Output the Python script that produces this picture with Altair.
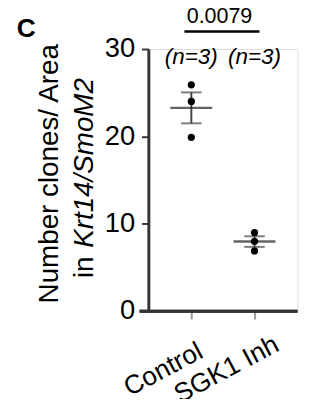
import altair as alt
import pandas as pd
import numpy as np

# ---- data ----
groups = ["Control", "SGK1 Inh"]
control_vals = [25.9, 24.0, 19.9]
sgk1_vals = [9.0, 8.0, 6.9]
n_labels = ["(n=3)", "(n=3)"]
p_value = "0.0079"
y_ticks = [0, 10, 20, 30]

pts = pd.DataFrame({
    "group": [groups[0]] * len(control_vals) + [groups[1]] * len(sgk1_vals),
    "value": control_vals + sgk1_vals,
})

stats_rows = []
for g, vals in zip(groups, [control_vals, sgk1_vals]):
    a = np.array(vals)
    m = a.mean()
    sem = a.std(ddof=1) / np.sqrt(len(a))
    stats_rows.append({"group": g, "mean": m, "lo": m - sem, "hi": m + sem})
stats = pd.DataFrame(stats_rows)
labels_df = pd.DataFrame({"group": groups, "n": n_labels})

FONT = "Liberation Sans"
W, H = 153, 269

xscale = alt.Scale(domain=groups, type="point", padding=0.68)
yscale = alt.Scale(domain=[0, 30], nice=False, zero=True)

x_enc = alt.X("group:N", scale=xscale,
              axis=alt.Axis(title=None, labels=False, domain=False,
                            ticks=True, tickSize=8, tickWidth=2,
                            tickColor="#999999", grid=False))
y_enc = alt.Y("value:Q", scale=yscale,
              axis=alt.Axis(title=None, values=y_ticks, grid=False,
                            labelFontSize=28, labelFont=FONT, labelColor="black",
                            labelPadding=7, tickSize=7, tickWidth=2,
                            tickColor="#333333", domainWidth=3,
                            domainColor="#333333"))

points = alt.Chart(pts).mark_circle(size=55, color="black", opacity=1).encode(
    x=x_enc, y=y_enc)

mean_tick = alt.Chart(stats).mark_tick(size=43, thickness=2.5, color="#222222").encode(
    x=alt.X("group:N", scale=xscale), y=alt.Y("mean:Q", scale=yscale))
lo_tick = alt.Chart(stats).mark_tick(size=21, thickness=2, color="#444444").encode(
    x=alt.X("group:N", scale=xscale), y=alt.Y("lo:Q", scale=yscale))
hi_tick = alt.Chart(stats).mark_tick(size=21, thickness=2, color="#444444").encode(
    x=alt.X("group:N", scale=xscale), y=alt.Y("hi:Q", scale=yscale))
vline = alt.Chart(stats).mark_rule(strokeWidth=2, color="#444444").encode(
    x=alt.X("group:N", scale=xscale), y=alt.Y("lo:Q", scale=yscale),
    y2="hi:Q")

# x axis line extending slightly left of y axis
xaxis_line = alt.Chart(stats).mark_rule(strokeWidth=3, color="#333333").encode(
    x=alt.value(-9), x2=alt.value(W), y=alt.value(H))

# x category labels (rotated)
xlabels = alt.Chart(labels_df).mark_text(
    angle=332, align="center", baseline="alphabetic", fontSize=27,
    font=FONT, color="black", dx=-28).encode(
    x=alt.X("group:N", scale=xscale), y=alt.value(323), text="group:N")

# n labels
nlab = alt.Chart(labels_df).mark_text(
    align="center", baseline="alphabetic", fontSize=23, fontStyle="italic",
    font=FONT, color="black").encode(
    x=alt.X("group:N", scale=xscale), y=alt.value(15), text="n:N")

ann = pd.DataFrame({"t": [p_value]})
ptext = alt.Chart(ann).mark_text(
    align="center", baseline="alphabetic", fontSize=22, font=FONT,
    color="black").encode(x=alt.value(73), y=alt.value(-27), text="t:N")
pline = alt.Chart(ann).mark_rule(strokeWidth=2.5, color="black").encode(
    x=alt.value(37), x2=alt.value(114), y=alt.value(-18))

panel = pd.DataFrame({"t": ["C"]})
panel_lab = alt.Chart(panel).mark_text(
    align="left", baseline="alphabetic", fontSize=27, fontWeight="bold",
    font=FONT, color="black").encode(x=alt.value(-135), y=alt.value(-12), text="t:N")

t1 = pd.DataFrame({"t": ["Number clones/ Area"]})
title1 = alt.Chart(t1).mark_text(
    angle=270, align="center", baseline="alphabetic", fontSize=28.5,
    font=FONT, color="black").encode(x=alt.value(-93), y=alt.value(128), text="t:N")
t2a = pd.DataFrame({"t": ["in"]})
title2a = alt.Chart(t2a).mark_text(
    angle=270, align="left", baseline="alphabetic", fontSize=28.5,
    font=FONT, color="black").encode(x=alt.value(-57), y=alt.value(235), text="t:N")
t2b = pd.DataFrame({"t": ["Krt14/SmoM2"]})
title2b = alt.Chart(t2b).mark_text(
    angle=270, align="left", baseline="alphabetic", fontSize=28.5, fontStyle="italic",
    font=FONT, color="black").encode(x=alt.value(-57), y=alt.value(204), text="t:N")

chart = alt.layer(
    vline, lo_tick, hi_tick, mean_tick, points, xaxis_line, xlabels, nlab,
    ptext, pline, panel_lab, title1, title2a, title2b
).properties(
    width=W, height=H,
    autosize=alt.AutoSizeParams(type="none"),
    padding={"left": 144, "top": 37, "right": 19, "bottom": 85},
).configure_view(stroke=None).configure(background="white")

chart.save("out.html", embed_options={"renderer": "svg", "actions": False})
